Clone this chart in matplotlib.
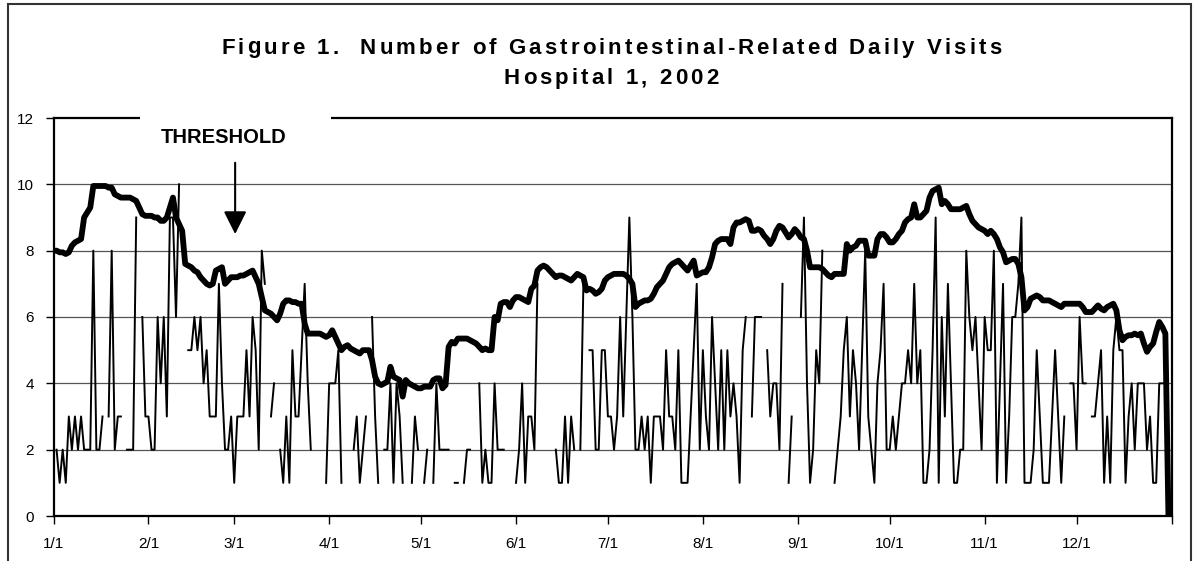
import numpy as np
import matplotlib
matplotlib.use('Agg')
import matplotlib.pyplot as plt
from matplotlib.patches import Rectangle

plt.rcParams['font.family'] = ['Liberation Sans', 'DejaVu Sans']

# daily visits per month (None = no data that day)
visits_jan = [None, 2, 1, 2, 1, 3, 2, 3, 2, 3, 2, 2, 2, 8, 2, 2, 3, None, 3, 8, 2, 3, 3, None, 2, 2, 2, 9, None, 6, 3]
visits_feb = [3, 2, 2, 6, 4, 6, 3, 9, 9, 6, 10, None, None, 5, 5, 6, 5, 6, 4, 5, 3, 3, 3, 7, 4, 2, 2, 3]
visits_mar = [1, 3, 3, 3, 5, 3, 6, 5, 2, 8, 7, None, 3, 4, None, 2, 1, 3, 1, 5, 3, 3, 5, 7, 4, 2, None, None, None, None, 1]
visits_apr = [4, 4, 4, 5, 1, None, None, None, 2, 3, 1, 2, 3, None, 6, 3, 1, None, 2, 2, 4, 1, 4, 3, 1, None, None, 1, 3, 2]
visits_may = [None, 1, 2, None, 1, 4, 2, 2, 2, 2, None, 1, 1, None, 1, 2, 2, None, None, 4, 1, 2, 1, 1, 4, 2, 2, 2, None, None, None]
visits_jun = [1, 2, 4, 1, 3, 3, 2, 7, None, None, None, None, None, 2, 1, 1, 3, 1, 3, 2, None, 2, 7, None, 5, 5, 2, 2, 5, 5]
visits_jul = [3, 3, 2, 3, 6, 3, 6, 9, 6, 2, 2, 3, 2, 3, 1, 3, 3, 3, 2, 5, 3, 3, 2, 5, 1, 1, 1, 3, 5, 7, 2]
visits_aug = [5, 3, 2, 6, 4, 2, 5, 2, 5, 3, 4, 3, 1, 5, 6, None, 3, 6, 6, 6, None, 5, 3, 4, 4, 2, 7, None, 1, 3, None]
visits_sep = [None, 6, 9, 4, 1, 2, 5, 4, 8, None, None, None, 1, 2, 3, 5, 6, 3, 5, 4, 2, 5, 8, 3, 2, 1, 4, 5, 7, 2]
visits_oct = [2, 3, 2, 3, 4, 4, 5, 4, 7, 4, 5, 1, 1, 2, 5, 9, 1, 6, 3, 7, 4, 1, 1, 2, 2, 8, 6, 5, 6, 4, 2]
visits_nov = [6, 5, 5, 8, 1, 4, 7, 1, 3, 6, 6, 7, 9, 1, 1, 1, 2, 5, 3, 1, 1, 1, 3, 5, 3, 1, 3, None, 4, 4]
visits_dec = [2, 6, 4, 4, None, 3, 3, 4, 5, 1, 3, 1, 5, 6, 5, 5, 1, 3, 4, 2, 4, 4, 4, 2, 3, 1, 1, 4, 4, 4, 0]

# threshold per month
thr_jan = [8.0, 8.0, 7.95, 7.95, 7.9, 7.95, 8.15, 8.25, 8.3, 8.35, 9.0, 9.15, 9.3, 9.95, 9.95, 9.95, 9.95, 9.95, 9.9, 9.9,
           9.7, 9.65, 9.6, 9.6, 9.6, 9.6, 9.55, 9.5, 9.3, 9.1, 9.05]
thr_feb = [9.05, 9.05, 9.0, 9.0, 8.9, 8.9, 9.0, 9.3, 9.6, 9.0, 8.8, 8.6, 7.6, 7.55, 7.5, 7.4, 7.35, 7.2, 7.1, 7.0,
           6.95, 7.0, 7.4, 7.45, 7.5, 7.0, 7.1, 7.2]
thr_mar = [7.2, 7.2, 7.25, 7.25, 7.3, 7.35, 7.4, 7.2, 7.0, 6.6, 6.2, 6.15, 6.1, 6.0, 5.9, 6.1, 6.4, 6.5, 6.5, 6.45,
           6.45, 6.4, 6.4, 5.8, 5.5, 5.5, 5.5, 5.5, 5.5, 5.45, 5.4]
thr_apr = [5.45, 5.6, 5.4, 5.2, 5.0, 5.1, 5.15, 5.05, 5.0, 4.95, 4.9, 5.0, 5.0, 5.0, 4.7, 4.2, 4.0, 3.95, 4.0, 4.05,
           4.5, 4.2, 4.15, 4.1, 3.6, 4.1, 4.0, 3.95, 3.9, 3.85]
thr_may = [3.85, 3.9, 3.9, 3.9, 4.1, 4.15, 4.15, 3.85, 3.95, 5.1, 5.25, 5.2, 5.35, 5.35, 5.35, 5.35, 5.3, 5.25, 5.2, 5.1,
           5.0, 5.05, 5.0, 5.0, 6.0, 5.9, 6.4, 6.45, 6.45, 6.3, 6.5]
thr_jun = [6.6, 6.6, 6.55, 6.5, 6.45, 6.85, 6.95, 7.4, 7.5, 7.55, 7.5, 7.4, 7.3, 7.2, 7.25, 7.25, 7.2, 7.15, 7.1, 7.2,
           7.3, 7.25, 7.2, 6.8, 6.85, 6.8, 6.7, 6.75, 6.85, 7.1]
thr_jul = [7.2, 7.25, 7.3, 7.3, 7.3, 7.3, 7.25, 7.15, 7.0, 6.3, 6.4, 6.45, 6.5, 6.5, 6.55, 6.7, 6.9, 7.0, 7.1, 7.3,
           7.5, 7.6, 7.65, 7.7, 7.6, 7.5, 7.4, 7.55, 7.7, 7.25, 7.3]
thr_aug = [7.35, 7.35, 7.5, 7.8, 8.2, 8.3, 8.35, 8.35, 8.35, 8.2, 8.7, 8.85, 8.85, 8.9, 8.95, 8.9, 8.6, 8.6, 8.65, 8.6,
           8.45, 8.35, 8.2, 8.35, 8.6, 8.75, 8.7, 8.55, 8.4, 8.5, 8.65]
thr_sep = [8.55, 8.4, 8.35, 8.0, 7.5, 7.5, 7.5, 7.5, 7.45, 7.35, 7.25, 7.2, 7.3, 7.3, 7.3, 7.3, 8.2, 8.0, 8.1, 8.15,
           8.3, 8.3, 8.3, 7.85, 7.85, 7.85, 8.35, 8.5, 8.5, 8.4]
thr_oct = [8.25, 8.25, 8.35, 8.5, 8.6, 8.85, 8.95, 9.0, 9.4, 9.0, 9.0, 9.1, 9.2, 9.6, 9.8, 9.85, 9.9, 9.4, 9.5, 9.4,
           9.25, 9.25, 9.25, 9.25, 9.3, 9.35, 9.1, 8.9, 8.8, 8.7, 8.65]
thr_nov = [8.6, 8.5, 8.6, 8.5, 8.35, 8.1, 7.95, 7.65, 7.7, 7.75, 7.75, 7.6, 7.2, 6.2, 6.3, 6.55, 6.6, 6.65, 6.6, 6.5,
           6.5, 6.5, 6.45, 6.4, 6.35, 6.3, 6.4, 6.4, 6.4, 6.4]
thr_dec = [6.4, 6.4, 6.3, 6.15, 6.15, 6.15, 6.25, 6.35, 6.25, 6.2, 6.3, 6.35, 6.4, 6.2, 5.6, 5.3, 5.4, 5.45, 5.45, 5.5,
           5.45, 5.5, 5.2, 4.95, 5.1, 5.2, 5.55, 5.85, 5.7, 5.5, 0]

month_labels = ['1/1', '2/1', '3/1', '4/1', '5/1', '6/1', '7/1', '8/1', '9/1', '10/1', '11/1', '12/1']
month_starts = [0, 31, 59, 90, 120, 151, 181, 212, 243, 273, 304, 334]

title1 = 'Figure 1.  Number of Gastrointestinal-Related Daily Visits'
title2 = 'Hospital 1, 2002'

visits = np.array(visits_jan + visits_feb + visits_mar + visits_apr + visits_may + visits_jun +
                  visits_jul + visits_aug + visits_sep + visits_oct + visits_nov + visits_dec, dtype=float)
threshold = np.array(thr_jan + thr_feb + thr_mar + thr_apr + thr_may + thr_jun +
                     thr_jul + thr_aug + thr_sep + thr_oct + thr_nov + thr_dec, dtype=float)
days = np.arange(len(visits))

W, H = 1196, 561
fig = plt.figure(figsize=(W / 100, H / 100), dpi=100)
fig.patch.set_facecolor('white')

# outer frame
fig.patches.append(Rectangle((8 / W, -0.02), (1191 - 8) / W, 1 - 4 / H + 0.02, transform=fig.transFigure,
                             fill=False, ec='#333333', lw=1.5))

ax = fig.add_axes([53.5 / W, 1 - 516 / H, (1171.5 - 53.5) / W, (516 - 118) / H])

for y in range(2, 12, 2):
    ax.axhline(y, color='#555555', lw=0.9, zorder=1)

ax.plot(days, threshold, color='black', lw=4.2, zorder=2, solid_joinstyle='round')
ax.plot(days, visits, color='black', lw=1.4, zorder=3)

ax.set_xlim(0, 365)
ax.set_ylim(0, 12)
ax.set_xticks(month_starts + [365])
ax.set_xticklabels(month_labels + [''])
ax.set_yticks(range(0, 13, 2))
ax.tick_params(axis='x', direction='out', length=6, width=1, pad=9, labelsize=11)
ax.tick_params(axis='y', direction='out', length=6, width=1, pad=8, labelsize=11)
for s in ax.spines.values():
    s.set_linewidth(1.6)
    s.set_color('black')

# white box behind the label breaks the top frame line
ax.add_patch(Rectangle((28.4, 11.0), 62.3, 1.4, fc='white', ec='none', clip_on=False, zorder=4))
ax.text(55.7, 11.4, 'THRESHOLD', ha='center', va='center', fontsize=14.5, fontweight='bold', zorder=5)
ax.annotate('', xy=(59.3, 8.5), xytext=(59.3, 10.65),
            arrowprops=dict(arrowstyle='-|>,head_length=0.7,head_width=0.35', mutation_scale=20,
                            color='black', lw=1.5, shrinkA=0, shrinkB=0), zorder=5)


def spaced_title(s, xc, y, size, width_px):
    # draw text letter by letter so the line gets the wide tracking of the original
    r = fig.canvas.get_renderer()

    def w(txt):
        t = fig.text(0, 0, txt, fontsize=size, fontweight='bold')
        e = t.get_window_extent(r).width
        t.remove()
        return e

    base = w('||')
    adv = [w('|' + ch + '|') - base for ch in s]
    track = (width_px - sum(adv)) / (len(s) - 1)
    x = xc * W - width_px / 2
    for ch, a in zip(s, adv):
        if ch != ' ':
            fig.text(x / W, y, ch, fontsize=size, fontweight='bold', ha='left', va='baseline')
        x += a + track


spaced_title(title1, 611 / W, 1 - 53.5 / H, 16, 780)
spaced_title(title2, 611 / W, 1 - 84 / H, 16, 215)

fig.savefig('out.png', dpi=100)
